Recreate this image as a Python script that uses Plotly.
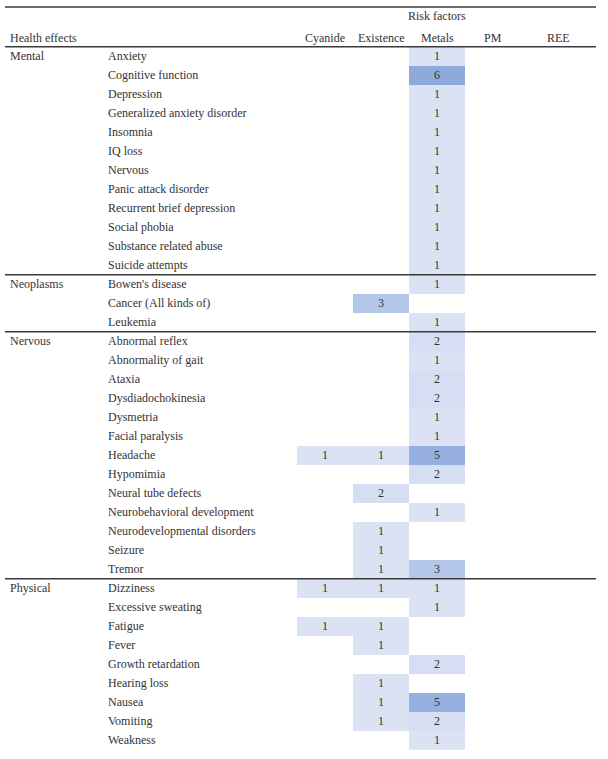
import plotly.graph_objects as go

# =========================
# data
# =========================
groups = ["Mental", "Neoplasms", "Nervous", "Physical"]

effects_mental = [
    "Anxiety", "Cognitive function", "Depression", "Generalized anxiety disorder",
    "Insomnia", "IQ loss", "Nervous", "Panic attack disorder",
    "Recurrent brief depression", "Social phobia", "Substance related abuse",
    "Suicide attempts",
]
effects_neoplasms = ["Bowen's disease", "Cancer (All kinds of)", "Leukemia"]
effects_nervous = [
    "Abnormal reflex", "Abnormality of gait", "Ataxia", "Dysdiadochokinesia",
    "Dysmetria", "Facial paralysis", "Headache", "Hypomimia",
    "Neural tube defects", "Neurobehavioral development",
    "Neurodevelopmental disorders", "Seizure", "Tremor",
]
effects_physical = [
    "Dizziness", "Excessive sweating", "Fatigue", "Fever", "Growth retardation",
    "Hearing loss", "Nausea", "Vomiting", "Weakness",
]

risk_factors = ["Cyanide", "Existence", "Metals", "PM", "REE"]

N = None
# one value per row (Mental, Neoplasms, Nervous, Physical in order)
cyanide = [N] * 12 + [N] * 3 + [N, N, N, N, N, N, 1, N, N, N, N, N, N] + [1, N, 1, N, N, N, N, N, N]
existence = [N] * 12 + [N, 3, N] + [N, N, N, N, N, N, 1, N, 2, N, 1, 1, 1] + [1, N, 1, 1, N, 1, 1, 1, N]
metals = [1, 6, 1, 1, 1, 1, 1, 1, 1, 1, 1, 1] + [1, N, 1] + [2, 1, 2, 2, 1, 1, 5, 2, N, 1, N, N, 3] + [1, 1, N, N, 2, N, 5, 2, 1]
pm = [N] * 37
ree = [N] * 37

# =========================
# layout helpers (pixel based)
# =========================
W, H = 608, 759
ROW_TOP = 46.7
ROW_H = 19.0
COL_X = [325, 381, 437, 493, 549]
FONT = "Liberation Serif, Times New Roman, serif"
TXT = "#333333"
LINE = "#3a3a3a"


def py(p):
    # pixel y -> row units
    return (p - ROW_TOP) / ROW_H - 0.5


all_groups = [
    ("Mental", effects_mental),
    ("Neoplasms", effects_neoplasms),
    ("Nervous", effects_nervous),
    ("Physical", effects_physical),
]
rows = []
group_start = []
for g, eff in all_groups:
    group_start.append((g, len(rows)))
    rows.extend(eff)
n_rows = len(rows)

cols = [cyanide, existence, metals, pm, ree]
z = [[cols[c][r] for c in range(len(cols))] for r in range(n_rows)]
text = [["" if v is None else str(v) for v in row] for row in z]

colorscale = [
    [0.0, "#dae2f3"],
    [0.2, "#d5def2"],
    [0.4, "#b5c7e8"],
    [0.8, "#94afe0"],
    [1.0, "#8eaadb"],
]

fig = go.Figure(
    go.Heatmap(
        z=z,
        x=COL_X,
        y=list(range(n_rows)),
        text=text,
        texttemplate="%{text}",
        textfont=dict(family=FONT, size=12, color=TXT),
        colorscale=colorscale,
        zmin=1,
        zmax=6,
        showscale=False,
        hoverongaps=False,
        hoverinfo="skip",
    )
)

ann = []
# header
ann.append(dict(x=437, y=py(16), text="Risk factors", xanchor="center"))
ann.append(dict(x=8, y=py(38), text="Health effects", xanchor="left"))
hdr_shift = [0, 0, 0, 0, 9]
for cx, name, s in zip(COL_X, risk_factors, hdr_shift):
    ann.append(dict(x=cx + s, y=py(38), text=name, xanchor="center"))

# group + effect labels
for g, start in group_start:
    ann.append(dict(x=8, y=start, text=g, xanchor="left"))
for i, r in enumerate(rows):
    ann.append(dict(x=106, y=i, text=r, xanchor="left"))

for a in ann:
    a.update(xref="x", yref="y", showarrow=False, yanchor="middle",
             font=dict(family=FONT, size=12, color=TXT))
fig.update_layout(annotations=ann)

# horizontal rules
rules = [py(7), -0.5]
acc = 0
for g, eff in all_groups[:-1]:
    acc += len(eff)
    rules.append(acc - 0.5)
for yv in rules:
    fig.add_shape(type="line", xref="x", yref="y", x0=5, x1=596, y0=yv, y1=yv,
                  line=dict(color=LINE, width=1.6), layer="above")

fig.update_xaxes(range=[0, W], visible=False, fixedrange=True)
fig.update_yaxes(range=[py(H), py(0)], visible=False, fixedrange=True)
fig.update_layout(
    width=W,
    height=H,
    margin=dict(l=0, r=0, t=0, b=0),
    paper_bgcolor="white",
    plot_bgcolor="white",
    showlegend=False,
)

fig.write_html(
    "out.html",
    config={"displayModeBar": False},
    post_script="document.body.style.margin='0px';",
)
